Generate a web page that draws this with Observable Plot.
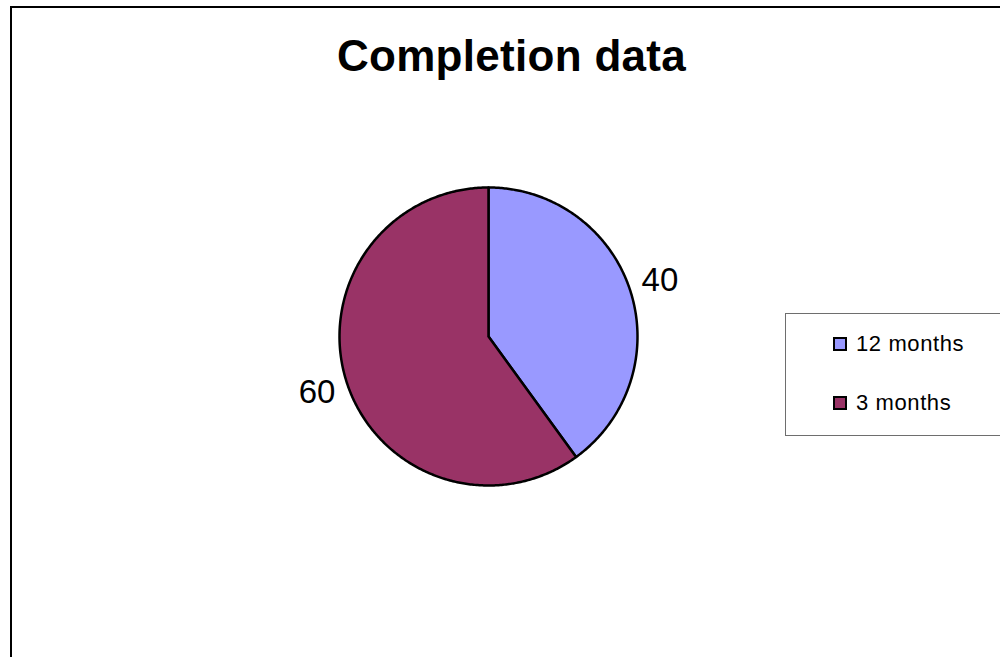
<!DOCTYPE html>
<html>
<head>
<meta charset="utf-8">
<script src="https://cdn.jsdelivr.net/npm/d3@7"></script>
<script src="https://cdn.jsdelivr.net/npm/@observablehq/plot@0.6"></script>
<style>
  html, body { margin: 0; padding: 0; background: #fff; }
  #chart { position: relative; width: 1000px; height: 657px; overflow: hidden; font-family: "Liberation Sans", Arial, sans-serif; }
  #chart svg { position: absolute; left: 0; top: 0; }
  #frame { position: absolute; left: 10px; top: 6px; width: 1100px; height: 800px; border: 2px solid #000; box-sizing: border-box; }
  #title { position: absolute; left: 0; width: 1023px; top: 31px; text-align: center; font-weight: bold; font-size: 44px; letter-spacing: 0.3px; color: #000; }
  #legend { position: absolute; left: 785px; top: 313px; width: 300px; height: 123px; border: 1.5px solid #6e6e6e; box-sizing: border-box; background: #fff; }
  .item { position: absolute; left: 47px; display: flex; align-items: center; font-size: 22px; color: #000; letter-spacing: 0.6px; }
  .swatch { width: 14px; height: 14px; border: 2px solid #000; box-sizing: border-box; margin-right: 9px; }
</style>
</head>
<body>
<div id="chart">
  <div id="frame"></div>
  <div id="title">Completion data</div>
  <div id="legend"></div>
</div>
<script>
// Completion counts by follow-up period
const categories = ["12 months", "3 months"];
const values = [40, 60];
const colors = ["#9999ff", "#993366"];

// Angles start at 12 o'clock and run clockwise
const arcs = d3.pie().sort(null).value(d => d.value)(
  categories.map((c, i) => ({category: c, value: values[i], color: colors[i]}))
);

// Each slice as a closed polygon on the unit circle (y up)
function slicePoints(a) {
  const pts = [{x: 0, y: 0}];
  const n = Math.max(2, Math.ceil((a.endAngle - a.startAngle) / 0.01));
  for (let k = 0; k <= n; k++) {
    const t = a.startAngle + (a.endAngle - a.startAngle) * k / n;
    pts.push({x: Math.sin(t), y: Math.cos(t)});
  }
  pts.push({x: 0, y: 0});
  return pts;
}

const labelRadius = 1.21;
const labels = arcs.map(a => {
  const m = (a.startAngle + a.endAngle) / 2;
  return {x: labelRadius * Math.sin(m), y: labelRadius * Math.cos(m), text: String(a.data.value)};
});

const chart = Plot.plot({
  width: 1000,
  height: 657,
  margin: 0,
  x: {domain: [-1, 1], range: [339, 637], axis: null},
  y: {domain: [-1, 1], range: [485, 187], axis: null},
  style: {background: "transparent", overflow: "visible"},
  marks: [
    ...arcs.map(a => Plot.line(slicePoints(a), {
      x: "x", y: "y",
      fill: a.data.color,
      stroke: "#000",
      strokeWidth: 2.5,
      strokeLinejoin: "round",
      curve: "linear"
    })),
    Plot.text(labels, {
      x: "x", y: "y", text: "text",
      fontSize: 33,
      fontFamily: "Liberation Sans, Arial, sans-serif",
      fill: "#000",
      textAnchor: "middle",
      lineAnchor: "middle"
    })
  ]
});
document.getElementById("chart").insertBefore(chart, document.getElementById("frame"));

// Legend entries
const legend = document.getElementById("legend");
categories.forEach((c, i) => {
  const item = document.createElement("div");
  item.className = "item";
  item.style.top = (i === 0 ? 17 : 76) + "px";
  const sw = document.createElement("div");
  sw.className = "swatch";
  sw.style.background = colors[i];
  const label = document.createElement("span");
  label.textContent = c;
  item.append(sw, label);
  legend.append(item);
});
</script>
</body>
</html>
